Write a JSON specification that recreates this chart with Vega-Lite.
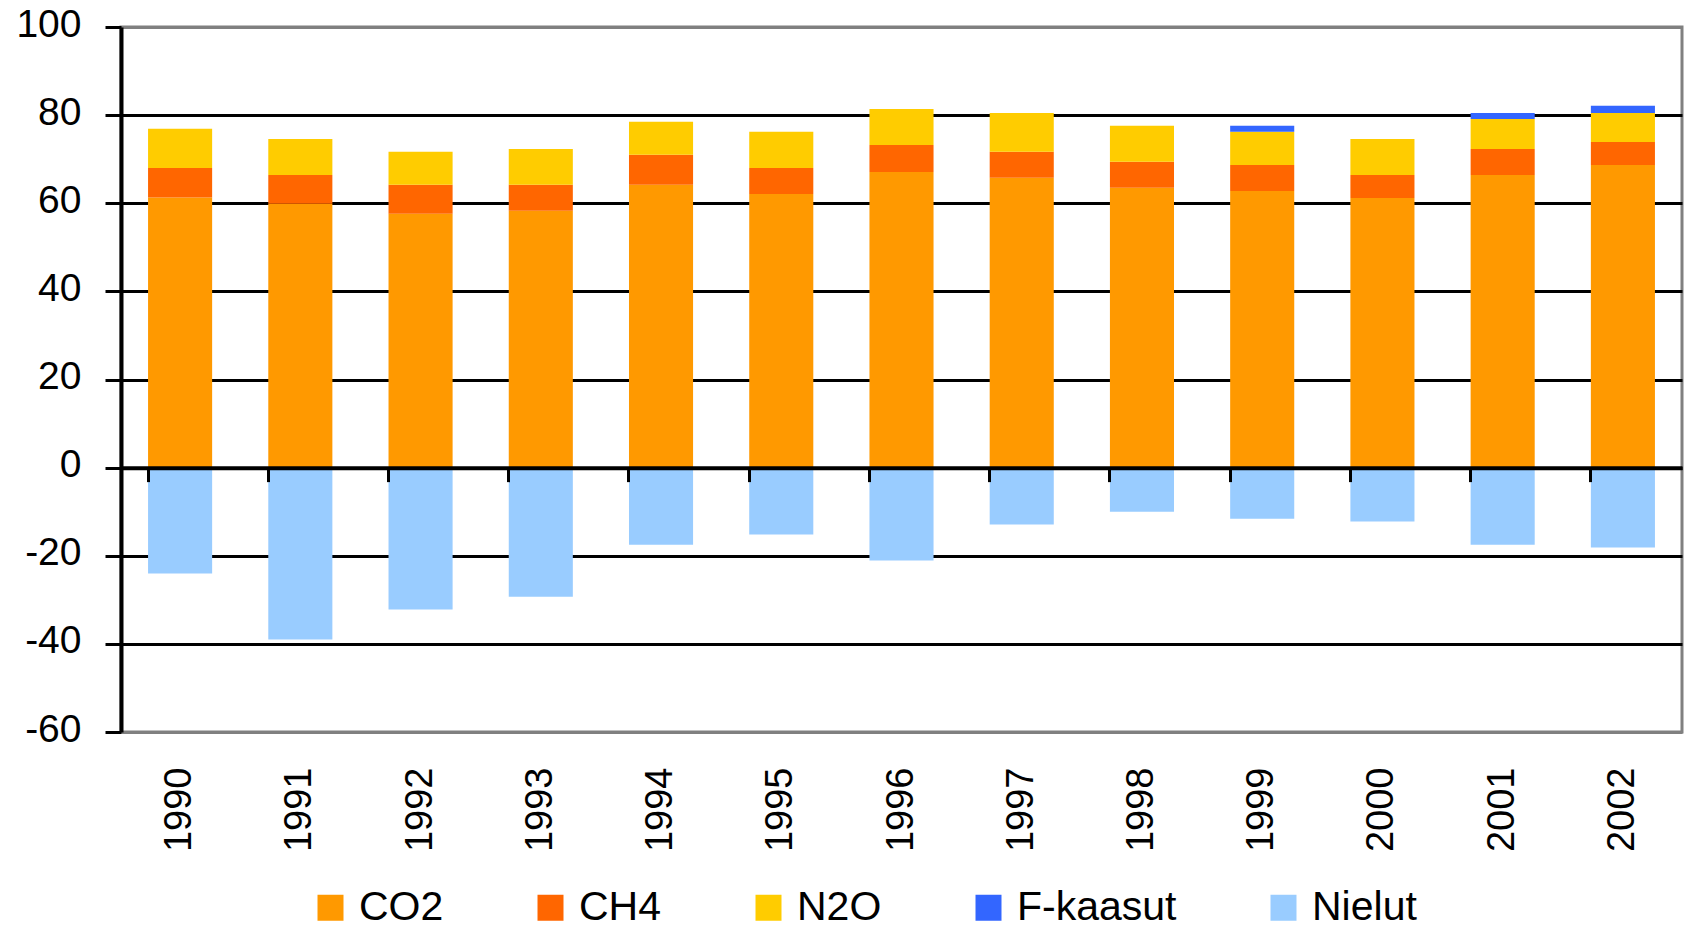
{
  "$schema": "https://vega.github.io/schema/vega-lite/v6.json",
  "width": 1561,
  "height": 705,
  "autosize": {"type": "none"},
  "padding": {"left": 121, "top": 27, "right": 4, "bottom": 200},
  "background": "white",
  "config": {"view": {"stroke": "#808080", "strokeWidth": 3}, "font": "Liberation Sans"},
  "data": {"values": [
    {"year": "1990", "gas": "CO2", "value": 61.3, "order": 1},
    {"year": "1990", "gas": "CH4", "value": 6.7, "order": 2},
    {"year": "1990", "gas": "N2O", "value": 8.9, "order": 3},
    {"year": "1990", "gas": "Nielut", "value": -24.0, "order": 5},
    {"year": "1991", "gas": "CO2", "value": 59.9, "order": 1},
    {"year": "1991", "gas": "CH4", "value": 6.5, "order": 2},
    {"year": "1991", "gas": "N2O", "value": 8.2, "order": 3},
    {"year": "1991", "gas": "Nielut", "value": -39.0, "order": 5},
    {"year": "1992", "gas": "CO2", "value": 57.6, "order": 1},
    {"year": "1992", "gas": "CH4", "value": 6.6, "order": 2},
    {"year": "1992", "gas": "N2O", "value": 7.5, "order": 3},
    {"year": "1992", "gas": "Nielut", "value": -32.2, "order": 5},
    {"year": "1993", "gas": "CO2", "value": 58.3, "order": 1},
    {"year": "1993", "gas": "CH4", "value": 5.9, "order": 2},
    {"year": "1993", "gas": "N2O", "value": 8.1, "order": 3},
    {"year": "1993", "gas": "Nielut", "value": -29.3, "order": 5},
    {"year": "1994", "gas": "CO2", "value": 64.2, "order": 1},
    {"year": "1994", "gas": "CH4", "value": 6.8, "order": 2},
    {"year": "1994", "gas": "N2O", "value": 7.5, "order": 3},
    {"year": "1994", "gas": "Nielut", "value": -17.5, "order": 5},
    {"year": "1995", "gas": "CO2", "value": 62.1, "order": 1},
    {"year": "1995", "gas": "CH4", "value": 5.9, "order": 2},
    {"year": "1995", "gas": "N2O", "value": 8.2, "order": 3},
    {"year": "1995", "gas": "Nielut", "value": -15.2, "order": 5},
    {"year": "1996", "gas": "CO2", "value": 67.1, "order": 1},
    {"year": "1996", "gas": "CH4", "value": 6.1, "order": 2},
    {"year": "1996", "gas": "N2O", "value": 8.2, "order": 3},
    {"year": "1996", "gas": "Nielut", "value": -21.1, "order": 5},
    {"year": "1997", "gas": "CO2", "value": 65.8, "order": 1},
    {"year": "1997", "gas": "CH4", "value": 5.9, "order": 2},
    {"year": "1997", "gas": "N2O", "value": 8.8, "order": 3},
    {"year": "1997", "gas": "Nielut", "value": -12.9, "order": 5},
    {"year": "1998", "gas": "CO2", "value": 63.5, "order": 1},
    {"year": "1998", "gas": "CH4", "value": 5.9, "order": 2},
    {"year": "1998", "gas": "N2O", "value": 8.2, "order": 3},
    {"year": "1998", "gas": "Nielut", "value": -10.0, "order": 5},
    {"year": "1999", "gas": "CO2", "value": 62.8, "order": 1},
    {"year": "1999", "gas": "CH4", "value": 5.9, "order": 2},
    {"year": "1999", "gas": "N2O", "value": 7.5, "order": 3},
    {"year": "1999", "gas": "F-kaasut", "value": 1.4, "order": 4},
    {"year": "1999", "gas": "Nielut", "value": -11.6, "order": 5},
    {"year": "2000", "gas": "CO2", "value": 61.2, "order": 1},
    {"year": "2000", "gas": "CH4", "value": 5.2, "order": 2},
    {"year": "2000", "gas": "N2O", "value": 8.2, "order": 3},
    {"year": "2000", "gas": "Nielut", "value": -12.2, "order": 5},
    {"year": "2001", "gas": "CO2", "value": 66.4, "order": 1},
    {"year": "2001", "gas": "CH4", "value": 5.9, "order": 2},
    {"year": "2001", "gas": "N2O", "value": 6.8, "order": 3},
    {"year": "2001", "gas": "F-kaasut", "value": 1.4, "order": 4},
    {"year": "2001", "gas": "Nielut", "value": -17.5, "order": 5},
    {"year": "2002", "gas": "CO2", "value": 68.7, "order": 1},
    {"year": "2002", "gas": "CH4", "value": 5.2, "order": 2},
    {"year": "2002", "gas": "N2O", "value": 6.6, "order": 3},
    {"year": "2002", "gas": "F-kaasut", "value": 1.6, "order": 4},
    {"year": "2002", "gas": "Nielut", "value": -18.1, "order": 5}
  ]},
  "layer": [
    {
      "mark": {"type": "bar"},
      "encoding": {
        "x": {
          "field": "year", "type": "ordinal",
          "scale": {"paddingInner": 0.467, "paddingOuter": 0.225},
          "axis": {
            "orient": "bottom", "title": null, "labelAngle": -90, "labelFontSize": 38,
            "labelColor": "black", "labelPadding": 35, "ticks": false, "tickSize": 0,
            "domain": false, "labelFont": "Liberation Sans"
          }
        },
        "y": {
          "field": "value", "type": "quantitative", "stack": "zero",
          "scale": {"domain": [-60, 100], "nice": false, "zero": false},
          "axis": {
            "title": null, "values": [-60, -40, -20, 0, 20, 40, 60, 80, 100],
            "labelExpr": "'' + datum.value",
            "labelFontSize": 39, "labelColor": "black", "labelPadding": 24,
            "labelFont": "Liberation Sans", "labelOffset": -3,
            "tickSize": 16, "tickWidth": 3, "tickColor": "black",
            "domainColor": "black", "domainWidth": 4,
            "gridColor": {"condition": {"test": "datum.value === 100 || datum.value === -60", "value": "#808080"}, "value": "black"},
            "gridWidth": 3
          }
        },
        "color": {
          "field": "gas", "type": "nominal",
          "scale": {
            "domain": ["CO2", "CH4", "N2O", "F-kaasut", "Nielut"],
            "range": ["#FF9900", "#FF6600", "#FFCC00", "#3366FF", "#99CCFF"]
          },
          "legend": {
            "orient": "none", "legendX": 189, "legendY": 860, "direction": "horizontal",
            "title": null, "symbolType": "square", "symbolSize": 676, "symbolStrokeWidth": 0,
            "labelFontSize": 41, "labelFont": "Liberation Sans", "labelColor": "black",
            "labelOffset": 8, "columnPadding": 86, "padding": 0, "labelLimit": 0
          }
        },
        "order": {"field": "order", "type": "quantitative"}
      }
    },
    {
      "mark": {"type": "bar", "opacity": 0},
      "encoding": {
        "x": {
          "field": "year", "type": "ordinal",
          "axis": {
            "orient": "top", "offset": -440.625, "title": null, "labels": false, "grid": false,
            "domain": true, "domainColor": "black", "domainWidth": 4,
            "ticks": true, "tickColor": "black", "tickWidth": 3, "tickSize": -14,
            "bandPosition": 0, "zindex": 1
          }
        }
      }
    }
  ],
  "resolve": {"axis": {"x": "independent"}}
}
